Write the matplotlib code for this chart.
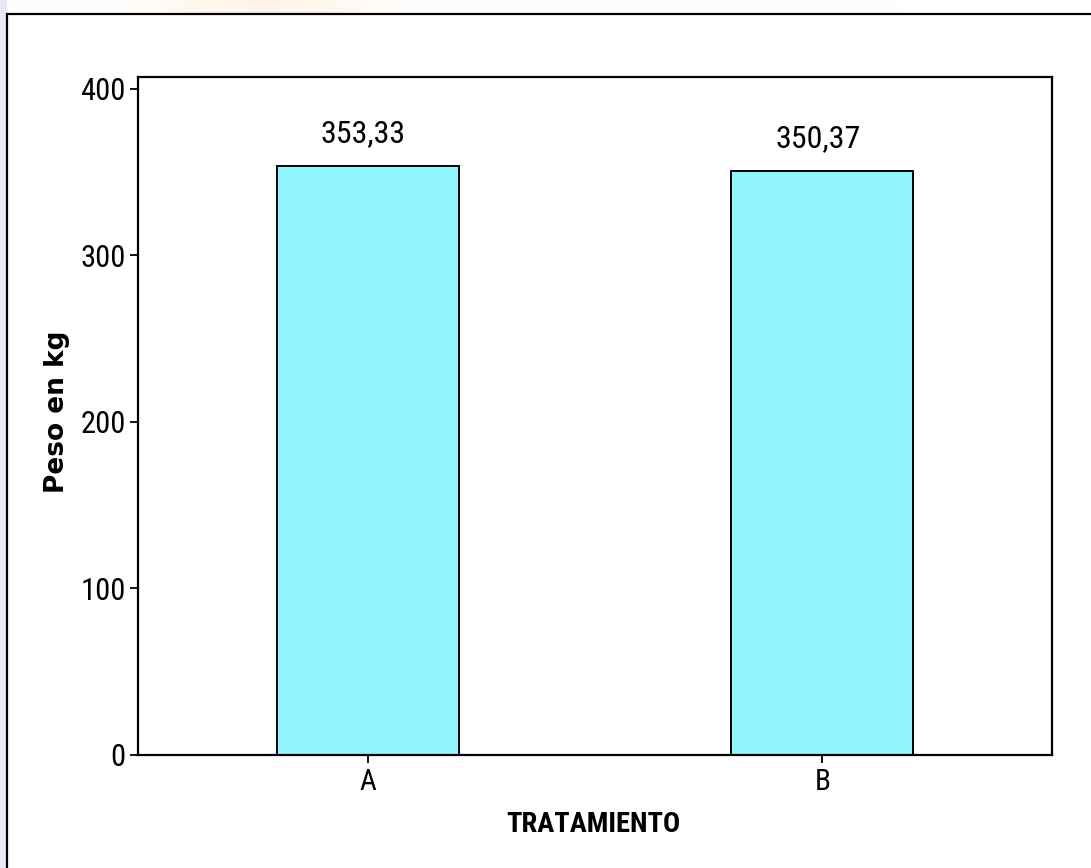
import numpy as np
import matplotlib.pyplot as plt
from matplotlib.patches import Rectangle
from matplotlib import font_manager

# datos
tratamientos = ["A", "B"]
pesos = [353.33, 350.37]
etiquetas = ["353,33", "350,37"]
yticks = [0, 100, 200, 300, 400]

# fuente estrecha si existe, si no Liberation Sans
instaladas = {f.name for f in font_manager.fontManager.ttflist}
estrecha = "Liberation Sans"
for nombre in ["Liberation Sans Narrow", "Roboto Condensed", "DejaVu Sans Condensed"]:
    if nombre in instaladas:
        estrecha = nombre
        break

fig = plt.figure(figsize=(10.91, 8.68), dpi=100)

# franja lateral y brillo superior
fig.patches.append(Rectangle((0, 0), 6.5 / 1091, 1, transform=fig.transFigure,
                             facecolor="#e9e9f5", edgecolor="none", zorder=0))
glow = fig.add_axes([0, 1 - 14 / 868, 1, 14 / 868], zorder=0)
gx = np.linspace(0, 1, 400)
prof = np.exp(-((gx - 0.24) / 0.10) ** 2)
img = np.ones((1, 400, 3))
img[0, :, 1] = 1 - 0.04 * prof
img[0, :, 2] = 1 - 0.09 * prof
glow.imshow(img, aspect="auto", extent=(0, 1, 0, 1))
glow.axis("off")

# marco exterior
fig.patches.append(Rectangle((7 / 1091, -0.1), 1.2, 1.1 - 14 / 868,
                             transform=fig.transFigure, facecolor="none",
                             edgecolor="black", linewidth=1.6, zorder=1))

ax = fig.add_axes([138 / 1091, 113 / 868, 914 / 1091, 678 / 868])
x = np.arange(len(tratamientos))
ax.bar(x, pesos, width=0.40, color="#90f5fd", edgecolor="black", linewidth=1.4)
for xi, p, lab in zip(x, pesos, etiquetas):
    ax.text(xi - 0.01, p + 11, lab, ha="center", va="bottom", fontsize=23,
            family=estrecha)

ax.set_xlim(-0.505, 1.505)
ax.set_ylim(0, 407)
ax.set_xticks(x)
ax.set_xticklabels(tratamientos, fontsize=21, family=estrecha)
ax.set_yticks(yticks)
ax.set_yticklabels([str(v) for v in yticks], fontsize=22, family=estrecha)
ax.tick_params(direction="out", length=6, width=1.3, pad=3)
for s in ax.spines.values():
    s.set_linewidth(1.6)

ax.set_xlabel("TRATAMIENTO", fontweight="bold", fontsize=20.5, family=estrecha)
ax.xaxis.set_label_coords(0.498, -0.082)
ax.set_ylabel("Peso en kg", family="DejaVu Sans", fontweight="bold", fontsize=19)
ax.yaxis.set_label_coords(-0.074, 0.507)

fig.savefig("out.png", dpi=100)
